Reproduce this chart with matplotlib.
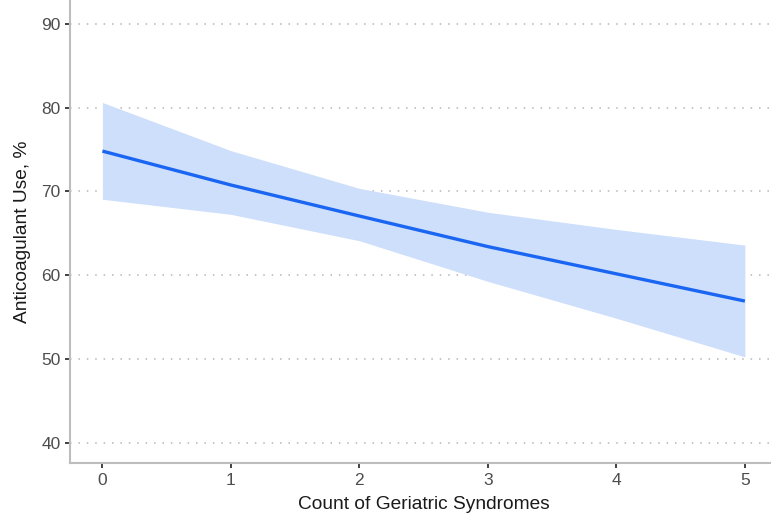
import matplotlib
matplotlib.use("Agg")
import matplotlib.pyplot as plt

plt.rcParams['font.family'] = ['Liberation Sans', 'DejaVu Sans']

counts = [0, 1, 2, 3, 4, 5]
fit = [74.8, 70.75, 67.05, 63.4, 60.15, 56.9]
lower = [69.05, 67.25, 64.1, 59.25, 54.85, 50.24]
upper = [80.6, 74.85, 70.35, 67.5, 65.45, 63.58]
yticks = [40, 50, 60, 70, 80, 90]

W, H = 771, 519
fig = plt.figure(figsize=(W / 100, H / 100), dpi=100)
ax = fig.add_axes([70.3 / W, (H - 463.3) / H, (777 - 70.3) / W, 463.3 / H])

ax.fill_between(counts, lower, upper, color='#cddffa', linewidth=0, zorder=2)
ax.plot(counts, fit, color='#1a66f2', linewidth=2.4, zorder=3, solid_capstyle='butt')

ax.set_xlim(-0.25, 5.25)
ax.set_ylim(37.54, 92.83)
ax.set_xticks(counts)
ax.set_yticks(yticks)

for y in yticks:
    ax.axhline(y, color='#b5b5b5', linewidth=1.1, linestyle=(0, (1, 4.5)), zorder=1)

for s in ['top', 'right']:
    ax.spines[s].set_visible(False)
for s in ['left', 'bottom']:
    ax.spines[s].set_color('#bdbdbd')
    ax.spines[s].set_linewidth(1.5)

ax.tick_params(axis='both', colors='#333333', labelcolor='#4d4d4d', labelsize=12.5,
               length=3.8, width=1.3)
ax.tick_params(axis='x', pad=3.5)
ax.tick_params(axis='y', pad=3.3)

ax.set_xlabel('Count of Geriatric Syndromes', fontsize=13.8, color='#1a1a1a', labelpad=5.5)
ax.set_ylabel('Anticoagulant Use, %', fontsize=13.8, color='#1a1a1a', labelpad=7)

fig.savefig('out.png', dpi=100)
